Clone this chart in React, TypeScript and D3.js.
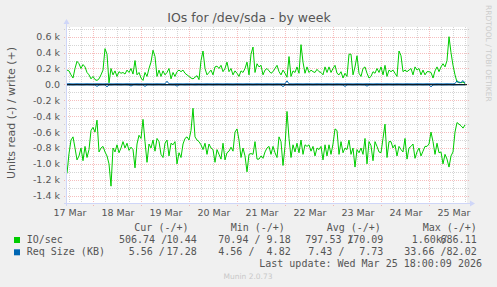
import React from "react";
import * as d3 from "d3";

// ---------- data ----------
const START = Date.UTC(2026, 2, 17, 11, 0, 0);
const END = Date.UTC(2026, 2, 25, 19, 0, 0);
const HOUR = 3600000;

// IO/sec write (+), hourly samples
const ioWrite = [
  180, 170, 120, 80, 200, 290, 260, 200, 250, 220,
  150, 120, 70, 100, 60, 50, 70, 120, 180, 450,
  380, 20, 200, 120, 170, 100, 160, 140, 150, 130,
  180, 150, 200, 130, 300, 120, 150, 80, 50, 150,
  100, 200, 280, 430, 350, 100, 180, 100, 170, 120,
  150, 200, 70, 150, 100, 160, 180, 160, 180, 140,
  120, 100, 80, 70, 90, 110, 60, 300, 420, 200,
  120, 150, 180, 120, 220, 230, 200, 240, 160, 200,
  280, 160, 200, 120, 170, 140, 100, 170, 150, 200,
  280, 120, 380, 470, 150, 260, 220, 240, 120, 180,
  200, 170, 140, 160, 200, 240, 160, 120, 180, 140,
  90, 350, 100, 170, 150, 220, 140, 500, 280, 140,
  220, 150, 180, 160, 150, 190, 160, 150, 120, 220,
  150, 220, 150, 200, 240, 140, 120, 160, 80, 140,
  100, 380, 380, 120, 220, 360, 140, 100, 200, 220,
  140, 80, 100, 160, 140, 200, 150, 220, 120, 240,
  100, 180, 160, 180, 140, 100, 420, 360, 160, 180,
  160, 180, 200, 120, 220, 180, 200, 120, 180, 120,
  160, 160, 150, 80, 170, 220, 160, 220, 260, 220,
  300, 600, 400, 240, 120, 30, 30, 20, 30, 10,
];

// IO/sec read (-), hourly samples (magnitudes)
const ioRead = [
  1120, 870, 700, 660, 800, 950, 900, 800, 960, 780,
  920, 820, 580, 540, 600, 450, 850, 800, 780, 850,
  900, 1000, 1280, 800, 850, 760, 860, 800, 720, 800,
  740, 830, 790, 820, 1050, 750, 640, 680, 440, 720,
  980, 750, 800, 700, 840, 680, 720, 880, 920, 740,
  700, 900, 740, 760, 720, 1000, 860, 920, 750, 680,
  660, 700, 580, 300, 660, 700, 720, 760, 820, 740,
  880, 750, 800, 820, 980, 820, 880, 940, 740, 950,
  860, 840, 790, 840, 600, 560, 700, 920, 800, 900,
  1100, 880, 870, 880, 720, 940, 940, 900, 930, 850,
  800, 780, 880, 780, 860, 920, 660, 720, 1020, 780,
  340, 680, 920, 760, 850, 740, 860, 700, 880, 760,
  780, 760, 840, 780, 900, 800, 820, 780, 950, 760,
  900, 760, 880, 750, 560, 580, 880, 720, 860, 800,
  820, 700, 880, 800, 1040, 820, 860, 800, 880, 680,
  1000, 720, 770, 960, 720, 780, 850, 860, 680, 500,
  920, 720, 720, 800, 760, 900, 780, 820, 850, 680,
  940, 800, 780, 750, 930, 850, 800, 900, 840, 780,
  780, 750, 600, 720, 880, 740, 860, 850, 1000, 880,
  940, 1040, 900, 850, 600, 480, 500, 520, 550, 510,
];

// Req Size (KB) write (+)
const reqWrite = [
  7, 8, 7, 6, 7, 8, 7, 7, 6, 7,
  8, 7, 7, 6, 7, 8, 7, 7, 6, 7,
  8, 7, 7, 6, 7, 8, 7, 7, 6, 7,
  8, 7, 7, 6, 7, 8, 7, 7, 6, 7,
  8, 7, 7, 6, 7, 8, 7, 7, 6, 7,
  40, 7, 7, 6, 7, 8, 7, 7, 6, 7,
  8, 7, 7, 6, 7, 8, 7, 7, 6, 7,
  8, 7, 7, 6, 7, 8, 7, 7, 6, 7,
  8, 7, 7, 6, 7, 8, 7, 7, 6, 7,
  8, 7, 7, 6, 7, 8, 7, 7, 6, 7,
  8, 7, 7, 6, 7, 8, 7, 7, 6, 7,
  45, 7, 7, 6, 7, 8, 7, 7, 6, 7,
  8, 7, 7, 6, 7, 8, 7, 7, 6, 7,
  8, 7, 7, 6, 7, 8, 7, 7, 6, 7,
  8, 7, 7, 6, 7, 8, 7, 7, 6, 7,
  8, 7, 7, 6, 7, 8, 7, 7, 6, 7,
  8, 7, 7, 6, 7, 8, 7, 7, 6, 7,
  8, 7, 7, 6, 7, 8, 7, 7, 6, 7,
  8, 7, 7, 6, 7, 8, 7, 7, 6, 7,
  8, 7, 7, 6, 10, 45, 20, 25, 48, 17,
];

// Req Size (KB) read (-)
const reqRead = [
  7, 6, 7, 8, 7, 6, 7, 7, 8, 7,
  6, 7, 7, 8, 7, 25, 8, 7, 6, 7,
  30, 7, 8, 7, 6, 7, 7, 8, 7, 6,
  7, 8, 20, 7, 6, 7, 8, 7, 7, 25,
  7, 6, 7, 8, 7, 7, 6, 7, 8, 7,
  7, 6, 7, 8, 7, 22, 7, 6, 7, 8,
  7, 7, 6, 7, 8, 7, 6, 7, 7, 8,
  7, 6, 7, 8, 7, 7, 6, 7, 8, 7,
  6, 7, 7, 8, 7, 6, 7, 7, 8, 7,
  7, 6, 7, 8, 7, 7, 6, 7, 8, 7,
  7, 6, 7, 8, 7, 7, 6, 7, 28, 7,
  6, 7, 7, 8, 7, 6, 7, 7, 8, 7,
  7, 6, 7, 8, 7, 7, 6, 7, 8, 7,
  7, 6, 7, 8, 7, 7, 6, 7, 8, 25,
  7, 6, 7, 8, 7, 7, 6, 7, 8, 7,
  22, 6, 7, 8, 7, 7, 6, 7, 8, 7,
  7, 6, 7, 8, 7, 7, 6, 7, 8, 7,
  7, 6, 7, 8, 7, 7, 6, 7, 8, 7,
  7, 6, 30, 8, 7, 7, 6, 7, 8, 7,
  7, 6, 7, 8, 7, 6, 5, 6, 5, 6,
];

const title = "IOs for /dev/sda - by week";
const yAxisTitle = "Units read (-) / write (+)";
const legendHeaders = ["Cur (-/+)", "Min (-/+)", "Avg (-/+)", "Max (-/+)"];
const seriesNames = ["IO/sec", "Req Size (KB)"];
const seriesColors = ["#00CC00", "#0066B3"];
const readTexts = [
  ["506.74 /", "70.94 /", "797.53 /", "1.60k/"],
  ["5.56 /", "4.56 /", "7.43 /", "33.66 /"],
];
const writeTexts = [
  ["10.44", "9.18", "170.09", "686.11"],
  ["17.28", "4.82", "7.73", "82.02"],
];
const lastUpdate = "Last update: Wed Mar 25 18:00:09 2026";
const footer = "Munin 2.0.73";
const watermark = "RRDTOOL / TOBI OETIKER";

// ---------- layout ----------
const W = 497;
const H = 287;
const PL = 67, PR = 467, PT = 27, PB = 203;
const headerX = [134.3, 230.7, 326.7, 422.7];
const readX = [[119, 218.3, 305.3, 411.7], [128.7, 218.3, 308.3, 404.3]];
const writeEndX = [196.7, 290.7, 383.3, 476.7];
const rowBase = [243, 255.3];

const SANS = "'DejaVu Sans', Verdana, sans-serif";
const MONO = "'DejaVu Sans Mono', monospace";
const TXT = "#555555";

export default function App() {
  const x = d3.scaleUtc().domain([new Date(START), new Date(END)]).range([PL, PR]);
  const y = d3.scaleLinear().domain([-1492, 722]).range([PB, PT]);
  const times = ioWrite.map((_, i) => new Date(START + i * HOUR));

  const line = d3
    .line<number>()
    .x((_, i) => x(times[i]))
    .y((d) => y(d));

  const neg = (arr: number[]) => arr.map((v) => -v);

  const sixHours = d3.utcHour.every(6)!.range(new Date(START), new Date(END));
  const minorX = sixHours.filter((d) => d.getUTCHours() !== 0);
  const majorX = sixHours.filter((d) => d.getUTCHours() === 0);
  const days = d3.utcDay.range(d3.utcDay.floor(new Date(START)), new Date(END));
  const labelTimes = days.map((d) => d3.utcHour.offset(d, 12));
  const fmtDay = d3.utcFormat("%d %b");

  const yMinor = d3.range(-1400, 701, 100).filter((v) => v % 200 !== 0);
  const yMajor = d3.range(-1400, 601, 200);
  const fmtY = (v: number) => (v === 0 ? "0.0" : `${(v / 1000).toFixed(1)} k`);

  const minorColor = "rgba(150,150,150,0.4)";
  const majorColor = "rgba(235,110,110,0.45)";
  const axisColor = "#CFD6F8";

  return (
    <svg
      width={W}
      height={H}
      viewBox={`0 0 ${W} ${H}`}
      style={{ position: "absolute", left: 0, top: 0, display: "block" }}
    >
      <rect x={0} y={0} width={W} height={H} fill="#F0F0F0" />
      <rect x={PL} y={PT} width={PR - PL} height={PB - PT} fill="#FFFFFF" />

      {/* minor grid */}
      {minorX.map((d, i) => (
        <line key={`mx${i}`} x1={Math.round(x(d)) + 0.5} x2={Math.round(x(d)) + 0.5} y1={PT} y2={PB + 2}
          stroke={minorColor} strokeDasharray="1,1" />
      ))}
      {yMinor.map((v, i) => (
        <line key={`my${i}`} x1={PL - 3} x2={PR + 2} y1={Math.round(y(v)) + 0.5} y2={Math.round(y(v)) + 0.5}
          stroke={minorColor} strokeDasharray="1,1" />
      ))}
      {/* major grid */}
      {majorX.map((d, i) => (
        <line key={`Mx${i}`} x1={Math.round(x(d)) + 0.5} x2={Math.round(x(d)) + 0.5} y1={PT} y2={PB + 3}
          stroke={majorColor} strokeDasharray="1,1" />
      ))}
      {yMajor.map((v, i) => (
        <line key={`My${i}`} x1={PL - 3} x2={PR + 2} y1={Math.round(y(v)) + 0.5} y2={Math.round(y(v)) + 0.5}
          stroke={majorColor} strokeDasharray="1,1" />
      ))}

      {/* data */}
      <path d={line(neg(ioRead)) || ""} fill="none" stroke={seriesColors[0]} strokeWidth={1} strokeLinejoin="round" />
      <path d={line(ioWrite) || ""} fill="none" stroke={seriesColors[0]} strokeWidth={1} strokeLinejoin="round" />
      <path d={line(neg(reqRead)) || ""} fill="none" stroke={seriesColors[1]} strokeWidth={1} />
      <path d={line(reqWrite) || ""} fill="none" stroke={seriesColors[1]} strokeWidth={1} />
      <line x1={PL} x2={PR} y1={y(0) + 0.3} y2={y(0) + 0.3} stroke="#000000" strokeWidth={1} />

      {/* axes */}
      <line x1={PL - 3} x2={PR + 3} y1={PB + 0.5} y2={PB + 0.5} stroke={axisColor} strokeWidth={1} />
      <path d={`M${PR + 3},${PB - 2.5} L${PR + 8},${PB + 0.5} L${PR + 3},${PB + 3.5} Z`} fill={axisColor} />
      <line x1={PL - 0.5} x2={PL - 0.5} y1={PB + 3} y2={PT - 3} stroke={axisColor} strokeWidth={1} />
      <path d={`M${PL - 3.5},${PT - 3} L${PL - 0.5},${PT - 8} L${PL + 2.5},${PT - 3} Z`} fill={axisColor} />

      {/* y labels */}
      {yMajor.map((v, i) => (
        <text key={`yl${i}`} x={60} y={y(v)} dy="0.36em" textAnchor="end" fontFamily={SANS} fontSize={9.5} fill={TXT}>
          {fmtY(v)}
        </text>
      ))}
      {/* x labels */}
      {labelTimes.map((d, i) => (
        <text key={`xl${i}`} x={x(d) + 1} y={216} textAnchor="middle" fontFamily={SANS} fontSize={9.5} fill={TXT}>
          {fmtDay(d)}
        </text>
      ))}

      {/* titles */}
      <text x={249} y={22} textAnchor="middle" fontFamily={SANS} fontSize={12.5} fill={TXT}>{title}</text>
      <text transform={`translate(15,113) rotate(-90)`} textAnchor="middle" fontFamily={SANS} fontSize={11} fill={TXT}>
        {yAxisTitle}
      </text>
      <text transform={`translate(486,5) rotate(90)`} textAnchor="start" fontFamily={SANS} fontSize={7.5} fill="#CCCCCC">
        {watermark}
      </text>

      {/* legend */}
      {legendHeaders.map((h, i) => (
        <text key={`lh${i}`} x={headerX[i]} y={231.3} fontFamily={MONO} fontSize={10} fill={TXT} xmlSpace="preserve">
          {h}
        </text>
      ))}
      {seriesNames.map((name, r) => (
        <g key={`row${r}`}>
          <rect x={14} y={rowBase[r] - 6} width={6} height={6} fill={seriesColors[r]} />
          <text x={26.7} y={rowBase[r]} fontFamily={MONO} fontSize={10} fill={TXT}>{name}</text>
          {readTexts[r].map((t, c) => (
            <text key={`r${c}`} x={readX[r][c]} y={rowBase[r]} fontFamily={MONO} fontSize={10} fill={TXT} xmlSpace="preserve">
              {t}
            </text>
          ))}
          {writeTexts[r].map((t, c) => (
            <text key={`w${c}`} x={writeEndX[c]} y={rowBase[r]} textAnchor="end" fontFamily={MONO} fontSize={10} fill={TXT}>
              {t}
            </text>
          ))}
        </g>
      ))}
      <text x={482} y={267} textAnchor="end" fontFamily={MONO} fontSize={10} fill={TXT}>{lastUpdate}</text>
      <text x={248} y={279} textAnchor="middle" fontFamily={SANS} fontSize={7.5} fill="#C8C8C8">{footer}</text>
    </svg>
  );
}
